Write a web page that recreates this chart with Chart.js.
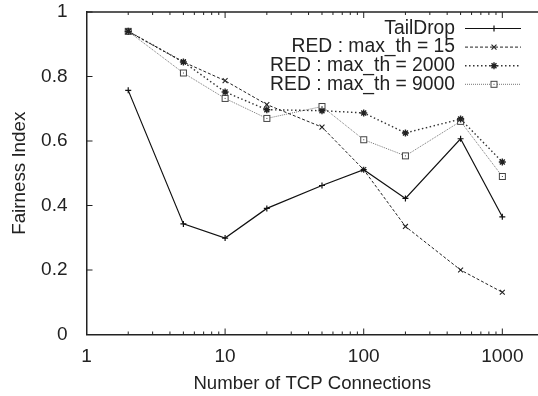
<!DOCTYPE html>
<html>
<head>
<meta charset="utf-8">
<script src="https://cdn.jsdelivr.net/npm/chart.js@4/dist/chart.umd.min.js"></script>
<style>
  html, body { margin: 0; padding: 0; background: #fff; }
  #wrap { width: 538px; height: 396px; }
</style>
</head>
<body>
<div id="wrap"><canvas id="chart"></canvas></div>
<script>
// number of TCP connections (x) and fairness index per scheme
const connections = [2, 5, 10, 20, 50, 100, 200, 500, 1000];
const tailDrop = [0.757, 0.343, 0.299, 0.391, 0.462, 0.511, 0.422, 0.607, 0.365];
const red15    = [0.940, 0.845, 0.787, 0.713, 0.643, 0.511, 0.335, 0.200, 0.131];
const red2000  = [0.940, 0.845, 0.752, 0.697, 0.694, 0.687, 0.625, 0.668, 0.535];
const red9000  = [0.940, 0.811, 0.732, 0.670, 0.707, 0.604, 0.554, 0.661, 0.490];

const seriesNames = ["TailDrop", "RED : max_th = 15", "RED : max_th = 2000", "RED : max_th = 9000"];
const xTicks = [1, 10, 100, 1000];
const yTicks = [0, 0.2, 0.4, 0.6, 0.8, 1];
const xTitle = "Number of TCP Connections";
const yTitle = "Fairness Index";

const axisColor = "#222";
const fontFamily = '"Liberation Sans", Arial, sans-serif';
Chart.defaults.font.family = fontFamily;
Chart.defaults.color = "#222";

const toPoints = (ys) => ys.map((y, i) => ({ x: connections[i], y: y }));

// hollow square with a dot in the middle, like the gnuplot marker
function boxDot() {
  const c = document.createElement("canvas");
  c.width = 9; c.height = 9;
  const g = c.getContext("2d");
  g.strokeStyle = "#444";
  g.lineWidth = 1;
  g.fillStyle = "#fff";
  g.fillRect(1, 1, 7, 7);
  g.strokeRect(1.5, 1.5, 6, 6);
  g.fillStyle = "#444";
  g.fillRect(4, 4, 1, 1);
  return c;
}

const frameAndLegend = {
  id: "frameAndLegend",
  afterDraw(chart) {
    const { ctx, chartArea: a, scales: { x, y } } = chart;
    ctx.save();
    ctx.strokeStyle = axisColor;
    const seg = (x1, y1, x2, y2) => {
      ctx.beginPath(); ctx.moveTo(x1, y1); ctx.lineTo(x2, y2); ctx.stroke();
    };
    // top border
    ctx.lineWidth = 1.5;
    seg(a.left, a.top, a.right, a.top);
    ctx.lineWidth = 1;
    // y ticks (inside)
    yTicks.forEach(v => {
      const py = y.getPixelForValue(v);
      seg(a.left, py, a.left + 6, py);
    });
    // x major + minor ticks, bottom and top
    xTicks.forEach(d => {
      for (let m = 1; m <= 9; m++) {
        const v = d * m;
        if (v > x.max) break;
        const px = x.getPixelForValue(v);
        const len = m === 1 ? 6 : 3;
        seg(px, a.bottom, px, a.bottom - len);
        seg(px, a.top, px, a.top + len);
      }
    });

    // legend: right-aligned text with sample to the right
    ctx.font = "19.3px " + fontFamily;
    ctx.textAlign = "right";
    ctx.textBaseline = "middle";
    chart.data.datasets.forEach((ds, i) => {
      const cy = 28.5 + i * 18.6;
      ctx.fillStyle = "#222";
      ctx.fillText(ds.label, 455, cy);
      ctx.strokeStyle = ds.borderColor;
      ctx.lineWidth = ds.borderWidth;
      ctx.setLineDash(ds.borderDash || []);
      seg(465, cy, 521, cy);
      ctx.setLineDash([]);
      ctx.strokeStyle = ds.pointBorderColor;
      ctx.fillStyle = ds.pointBackgroundColor;
      ctx.lineWidth = ds.pointBorderWidth;
      Chart.helpers.drawPoint(ctx, {
        pointStyle: ds.pointStyle, radius: ds.pointRadius, rotation: 0, borderWidth: ds.pointBorderWidth
      }, 494, cy);
    });
    ctx.restore();
  }
};

new Chart(document.getElementById("chart"), {
  type: "line",
  data: {
    datasets: [
      {
        label: seriesNames[0], data: toPoints(tailDrop),
        borderColor: "#111", borderWidth: 1.2,
        pointStyle: "cross", pointRadius: 3, pointBorderWidth: 1.2,
        pointBorderColor: "#111", pointBackgroundColor: "#111"
      },
      {
        label: seriesNames[1], data: toPoints(red15),
        borderColor: "#222", borderWidth: 1, borderDash: [3, 2],
        pointStyle: "crossRot", pointRadius: 3.5, pointBorderWidth: 1.1,
        pointBorderColor: "#222", pointBackgroundColor: "#222"
      },
      {
        label: seriesNames[2], data: toPoints(red2000),
        borderColor: "#333", borderWidth: 1.4, borderDash: [1.5, 2.5],
        pointStyle: "star", pointRadius: 3.5, pointBorderWidth: 1.4,
        pointBorderColor: "#222", pointBackgroundColor: "#222"
      },
      {
        label: seriesNames[3], data: toPoints(red9000),
        borderColor: "#777", borderWidth: 1, borderDash: [1, 1],
        pointStyle: boxDot(), pointRadius: 4, pointBorderWidth: 1,
        pointBorderColor: "#444", pointBackgroundColor: "#fff"
      }
    ]
  },
  options: {
    responsive: true,
    maintainAspectRatio: false,
    animation: false,
    layout: { autoPadding: false, padding: { top: 12, right: 0, left: 0, bottom: 0 } },
    plugins: { legend: { display: false }, tooltip: { enabled: false } },
    elements: { line: { tension: 0 } },
    scales: {
      x: {
        type: "logarithmic",
        bounds: "data",
        min: 1,
        max: 1809,
        afterBuildTicks: (s) => { s.ticks = xTicks.map(v => ({ value: v })); },
        afterFit: (s) => { s.height = 61.5; s.paddingLeft = 0; s.paddingRight = 0; },
        grid: { display: false },
        border: { display: true, color: axisColor, width: 1.5 },
        ticks: {
          autoSkip: false, maxRotation: 0, padding: 3,
          font: { size: 19 }, color: "#222",
          callback: (v) => String(v)
        },
        title: {
          display: true, text: xTitle, color: "#222",
          font: { size: 18.6 }, padding: { top: 0, bottom: 1 }
        }
      },
      y: {
        type: "linear",
        min: 0,
        max: 1,
        afterBuildTicks: (s) => { s.ticks = yTicks.map(v => ({ value: v })); },
        afterFit: (s) => { s.width = 86.5; s.paddingTop = 0; s.paddingBottom = 0; },
        grid: { display: false },
        border: { display: true, color: axisColor, width: 1.5 },
        ticks: {
          padding: 11, font: { size: 19 }, color: "#222",
          callback: (v) => String(+v.toFixed(1))
        },
        title: {
          display: true, text: yTitle, color: "#222",
          font: { size: 18.8 }, padding: { top: 8.5, bottom: 0 }
        }
      }
    }
  },
  plugins: [frameAndLegend]
});
</script>
</body>
</html>
